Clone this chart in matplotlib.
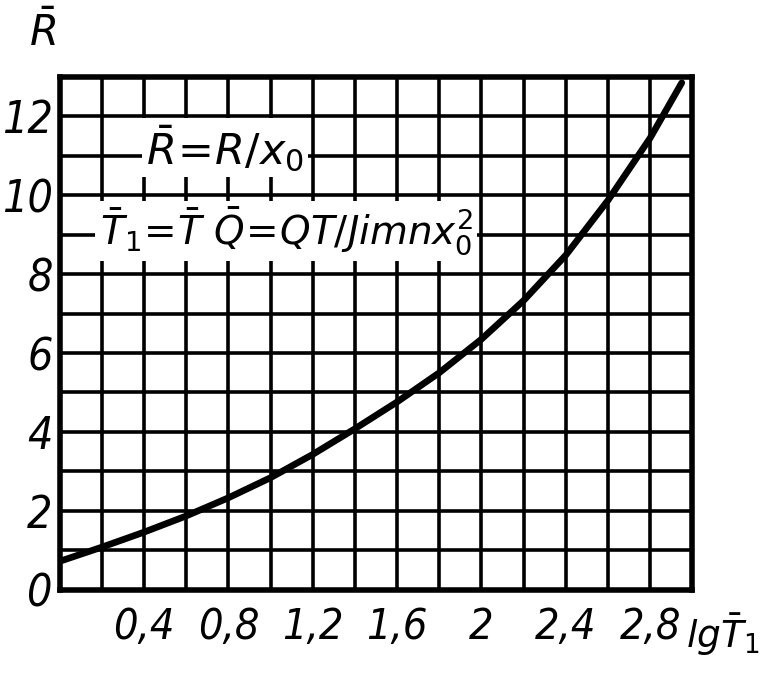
import numpy as np
import matplotlib.pyplot as plt

# curve: lg T1 vs R/x0
lg_t = [0, 0.2, 0.4, 0.6, 0.8, 1.0, 1.2, 1.4, 1.6, 1.8, 2.0, 2.2, 2.4, 2.6, 2.8, 2.95]
r_bar = [0.72, 1.08, 1.46, 1.87, 2.33, 2.84, 3.43, 4.08, 4.76, 5.5, 6.35, 7.33, 8.48, 9.87, 11.45, 12.85]

x_ticks = [0.4, 0.8, 1.2, 1.6, 2.0, 2.4, 2.8]
x_labels = ['0,4', '0,8', '1,2', '1,6', '2', '2,4', '2,8']
y_ticks = [0, 2, 4, 6, 8, 10, 12]
y_labels = ['0', '2', '4', '6', '8', '10', '12']

font = dict(family='DejaVu Sans', style='italic', stretch='condensed')
plt.rcParams['mathtext.fontset'] = 'dejavusans'

fig = plt.figure(figsize=(7.65, 6.74), dpi=100)
ax = fig.add_axes([0.078, 0.125, 0.827, 0.761])
ax.set_xlim(0, 3.0)
ax.set_ylim(0, 13)

# grid
for gx in np.arange(0.2, 3.0, 0.2):
    ax.axvline(gx, color='black', lw=2.6, zorder=1)
for gy in range(1, 13):
    ax.axhline(gy, color='black', lw=2.6, zorder=1)
for s in ax.spines.values():
    s.set_linewidth(4)

ax.plot(lg_t, r_bar, color='black', lw=4.8, solid_capstyle='round',
        solid_joinstyle='round', zorder=3)

ax.set_xticks(x_ticks)
ax.set_xticklabels(x_labels, fontsize=31, **font)
ax.set_yticks(y_ticks)
ax.set_yticklabels(y_labels, fontsize=32, **font)
ax.tick_params(axis='y', length=0, pad=5)
ax.tick_params(axis='x', length=0, pad=12)

# formulas (white background hides the grid behind them)
ax.text(0.41, 10.8, r'$\bar{R}\!=\!R/x_0$', fontsize=31, color='black', zorder=4,
        bbox=dict(facecolor='white', edgecolor='none', pad=3))
ax.text(0.19, 8.75, r'$\bar{T}_1\!=\!\bar{T}\ \bar{Q}\!=\!QT/Jimnx_0^2$', fontsize=28,
        color='black', zorder=4, bbox=dict(facecolor='white', edgecolor='none', pad=3))

fig.text(0.055, 0.95, r'$\bar{R}$', fontsize=30, ha='center', va='center')
fig.text(0.945, 0.058, r'$lg\bar{T}_1$', fontsize=27, ha='center', va='center')

fig.savefig('out.png', dpi=100)
